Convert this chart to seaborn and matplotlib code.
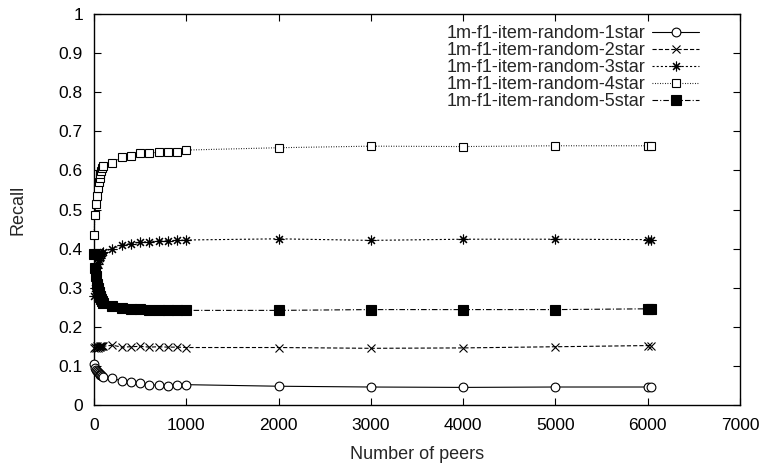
import matplotlib
matplotlib.use("Agg")
import matplotlib.pyplot as plt
import seaborn as sns
import pandas as pd

peers = [1, 10, 20, 30, 40, 50, 60, 70, 80, 90, 100,
         200, 300, 400, 500, 600, 700, 800, 900, 1000,
         2000, 3000, 4000, 5000, 6000, 6040]

recall_1star = [0.105, 0.095, 0.090, 0.088, 0.085, 0.082, 0.080, 0.078, 0.076, 0.074, 0.072,
                0.068, 0.062, 0.060, 0.055, 0.052, 0.050, 0.049, 0.050, 0.052,
                0.048, 0.046, 0.045, 0.046, 0.046, 0.046]
recall_2star = [0.145, 0.148, 0.146, 0.150, 0.147, 0.149, 0.151, 0.148, 0.150, 0.152, 0.150,
                0.153, 0.148, 0.149, 0.150, 0.148, 0.149, 0.148, 0.148, 0.147,
                0.147, 0.145, 0.146, 0.149, 0.152, 0.152]
recall_3star = [0.280, 0.300, 0.330, 0.350, 0.360, 0.370, 0.375, 0.380, 0.385, 0.390, 0.392,
                0.400, 0.409, 0.413, 0.416, 0.418, 0.419, 0.420, 0.421, 0.422,
                0.425, 0.421, 0.424, 0.424, 0.423, 0.423]
recall_4star = [0.435, 0.486, 0.514, 0.534, 0.555, 0.570, 0.580, 0.590, 0.598, 0.605, 0.610,
                0.620, 0.633, 0.638, 0.644, 0.645, 0.646, 0.647, 0.648, 0.652,
                0.658, 0.662, 0.661, 0.663, 0.663, 0.663]
recall_5star = [0.385, 0.350, 0.330, 0.310, 0.300, 0.290, 0.280, 0.275, 0.270, 0.265, 0.262,
                0.252, 0.248, 0.246, 0.245, 0.244, 0.243, 0.243, 0.242, 0.242,
                0.242, 0.244, 0.244, 0.244, 0.246, 0.246]

series_names = ["1m-f1-item-random-1star", "1m-f1-item-random-2star",
                "1m-f1-item-random-3star", "1m-f1-item-random-4star",
                "1m-f1-item-random-5star"]
series_values = [recall_1star, recall_2star, recall_3star, recall_4star, recall_5star]

x_ticks = [0, 1000, 2000, 3000, 4000, 5000, 6000, 7000]
y_ticks = [0, 0.1, 0.2, 0.3, 0.4, 0.5, 0.6, 0.7, 0.8, 0.9, 1]
y_tick_labels = ["0", "0.1", "0.2", "0.3", "0.4", "0.5", "0.6", "0.7", "0.8", "0.9", "1"]

sns.set_style("ticks")
plt.rcParams["font.family"] = ["Liberation Sans", "DejaVu Sans"]
plt.rcParams["lines.scale_dashes"] = False

rows = []
for name, vals in zip(series_names, series_values):
    for x, y in zip(peers, vals):
        rows.append({"peers": x, "recall": y, "series": name})
df = pd.DataFrame(rows)

styles = [
    dict(marker="o", ms=6.3, mfc="white", mec="black", mew=0.8, linestyle="-"),
    dict(marker="x", ms=5.5, mfc="black", mec="black", mew=0.8, linestyle=(0, (3, 1.5))),
    dict(marker=(8, 2, 0), ms=7, mfc="black", mec="black", mew=0.8, linestyle=(0, (1.5, 1.5))),
    dict(marker="s", ms=5.8, mfc="white", mec="black", mew=0.8, linestyle=(0, (0.6, 1.2))),
    dict(marker="s", ms=7.2, mfc="black", mec="black", mew=0.8, linestyle=(0, (4, 1.5, 0.8, 1.5))),
]

fig = plt.figure(figsize=(7.61, 4.66), dpi=100)
ax = fig.add_axes([94 / 761, 1 - 405 / 466, 646 / 761, 391 / 466])

for name, st in zip(series_names, styles):
    sub = df[df["series"] == name]
    sns.lineplot(data=sub, x="peers", y="recall", ax=ax, color="black", lw=0.8,
                 label=name, estimator=None, sort=False, clip_on=False, zorder=3, **st)

ax.set_xlim(0, 7000)
ax.set_ylim(0, 1)
ax.set_xticks(x_ticks)
ax.set_xticklabels([str(t) for t in x_ticks])
ax.set_yticks(y_ticks)
ax.set_yticklabels(y_tick_labels)
ax.tick_params(axis="both", direction="in", length=5, width=0.8, top=True, right=True,
               labelsize=12.5, colors="black")
ax.tick_params(axis="x", pad=9)
ax.tick_params(axis="y", pad=8)
for sp in ax.spines.values():
    sp.set_linewidth(1.0)
    sp.set_color("black")
ax.set_xlabel("Number of peers", fontsize=13, labelpad=10)
ax.set_ylabel("Recall", fontsize=13, labelpad=23)

leg = ax.legend(loc="upper right", bbox_to_anchor=(0.948, 0.99), frameon=False,
                markerfirst=False, fontsize=13, handlelength=2.6, labelspacing=0.0,
                handletextpad=0.4, numpoints=1, borderaxespad=0)

fig.savefig("out.png", dpi=100)
